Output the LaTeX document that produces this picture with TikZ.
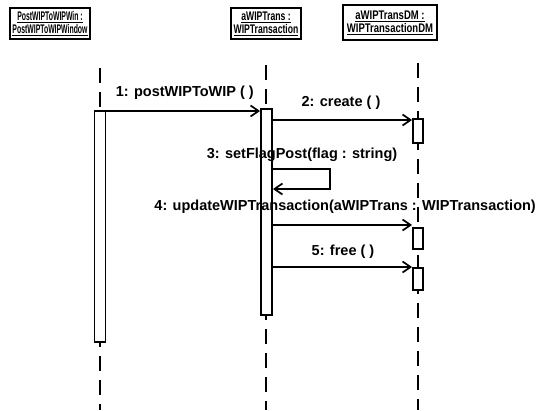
\documentclass[tikz,border=0pt]{standalone}
\usepackage{fontspec}
\setmainfont{Liberation Sans}
\usetikzlibrary{arrows.meta}
\newcommand{\objlabel}[3]{\scalebox{#1}[1]{\underline{#2}}\\[0pt]\scalebox{#1}[1]{\underline{#3}}}
\begin{document}
\begin{tikzpicture}[x=1pt,y=-1pt,
  every node/.style={inner sep=0pt},
  obj/.style={draw, line width=2pt, align=center, font=\bfseries\fontsize{12.5}{13}\selectfont},
  life/.style={line width=1.8pt, dash pattern=on 15pt off 9pt},
  act/.style={draw, line width=1.9pt, fill=white, anchor=north, minimum width=11pt},
  msg/.style={line width=1.7pt, -{Straight Barb[length=8pt,width=11pt,line width=1.7pt]}},
  lbl/.style={font=\bfseries\fontsize{14.5}{16}\selectfont}
]
\useasboundingbox[fill=white] (0,0) rectangle (537,410);
% objects
\node[obj, minimum width=80pt, minimum height=31pt] (o1) at (50,23.5) {\objlabel{0.55}{PostWIPToWIPWin :}{PostWIPToWIPWindow}};
\node[obj, minimum width=70pt, minimum height=31pt] (o2) at (266,23.5) {\objlabel{0.69}{aWIPTrans :}{WIPTransaction}};
\node[obj, minimum width=94pt, minimum height=35pt] (o3) at (390,22.5) {\objlabel{0.76}{aWIPTransDM :}{WIPTransactionDM}};
% lifelines
\coordinate (t1) at (100,68); \coordinate (b1) at (100,410);
\coordinate (t2) at (266,65); \coordinate (b2) at (266,410);
\coordinate (t3) at (418,63); \coordinate (b3) at (418,410);
\draw[life] (t1) -- (b1);
\draw[life] (t2) -- (b2);
\draw[life] (t3) -- (b3);
% activations
\node[act, minimum height=231pt] (a1) at (100,110) {};
\node[act, minimum height=206pt] (a2) at (266.5,108) {};
\node[act, minimum width=10pt, minimum height=24pt] (d1) at (418,118) {};
\node[act, minimum width=10pt, minimum height=21pt] (d2) at (418,227) {};
\node[act, minimum width=10pt, minimum height=22pt] (d3) at (418,267) {};
% messages
\coordinate (y1) at (0,111); \coordinate (y2) at (0,120);
\coordinate (y3a) at (0,169); \coordinate (y3b) at (0,189);
\coordinate (y4) at (0,225); \coordinate (y5) at (0,267);
\coordinate (lx) at (330,0);
\draw[msg] (a1.east |- y1) -- (a2.west |- y1);
\draw[msg] (a2.east |- y2) -- (d1.west |- y2);
\draw[msg] (a2.east |- y3a) -- (lx |- y3a) -- (lx |- y3b) -- (a2.east |- y3b);
\draw[msg] (a2.east |- y4) -- (d2.west |- y4);
\draw[msg] (a2.east |- y5) -- (d3.west |- y5);
% labels
\node[lbl, anchor=east] (m1) at (254,93) {1: postWIPToWIP ( )};
\node[lbl] (m2) at (341,103) {2: create ( )};
\node[lbl] (m3) at (302,155) {3: setFlagPost(flag : string)};
\node[lbl, anchor=east] (m4) at (536,207) {4: updateWIPTransaction(aWIPTrans : WIPTransaction)};
\node[lbl] (m5) at (343,252) {5: free ( )};
\end{tikzpicture}
\end{document}
